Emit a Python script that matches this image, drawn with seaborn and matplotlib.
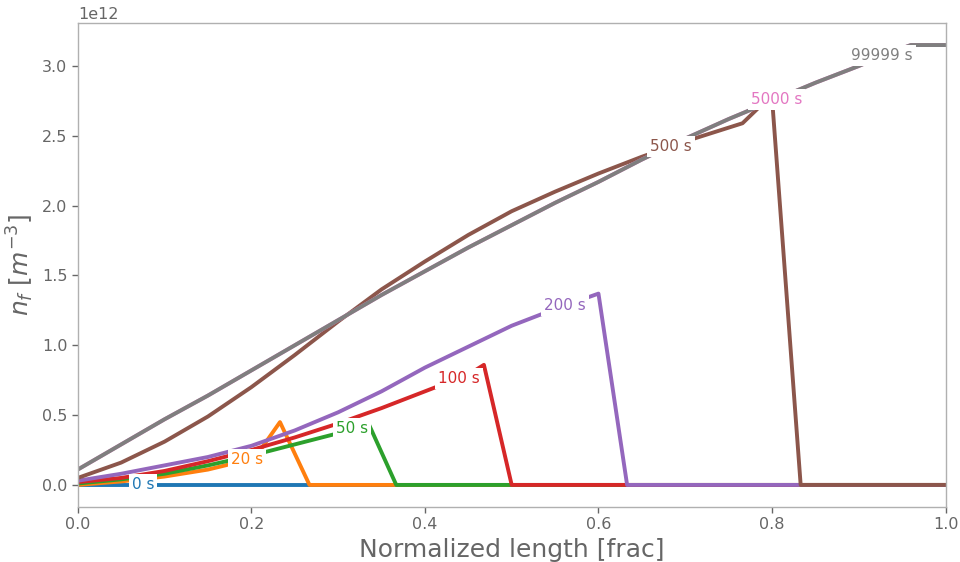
import numpy as np
import pandas as pd
import matplotlib
matplotlib.use("Agg")
import matplotlib.pyplot as plt
import seaborn as sns

sns.set_theme(style="white")
plt.rcParams['font.family'] = ['DejaVu Sans']

# ---- data (units of 1e12 m^-3) ----
labels = ["0 s", "20 s", "50 s", "100 s", "200 s", "500 s", "5000 s", "99999 s"]

x_0s = [0.0, 1.0]
y_0s = [0.0, 0.0]

x_20s = [0.0, 0.05, 0.1, 0.15, 0.17, 0.2, 0.207, 0.233, 0.267, 1.0]
y_20s = [0.0, 0.025, 0.06, 0.11, 0.14, 0.19, 0.22, 0.45, 0.0, 0.0]

x_50s = [0.0, 0.05, 0.1, 0.15, 0.2, 0.25, 0.3, 0.335, 0.367, 1.0]
y_50s = [0.01, 0.04, 0.08, 0.14, 0.21, 0.29, 0.37, 0.44, 0.0, 0.0]

x_100s = [0.0, 0.05, 0.1, 0.15, 0.2, 0.25, 0.3, 0.35, 0.4, 0.45, 0.468, 0.5, 1.0]
y_100s = [0.02, 0.05, 0.1, 0.17, 0.25, 0.34, 0.44, 0.55, 0.67, 0.79, 0.86, 0.0, 0.0]

x_200s = [0.0, 0.05, 0.1, 0.15, 0.2, 0.25, 0.3, 0.35, 0.4, 0.45, 0.5, 0.55, 0.6, 0.633, 1.0]
y_200s = [0.03, 0.08, 0.14, 0.2, 0.28, 0.39, 0.52, 0.67, 0.84, 0.99, 1.14, 1.26, 1.37, 0.0, 0.0]

x_500s = [0.0, 0.05, 0.1, 0.15, 0.2, 0.25, 0.3, 0.35, 0.4, 0.45, 0.5, 0.55, 0.6, 0.65,
          0.7, 0.766, 0.786, 0.8, 0.833, 1.0]
y_500s = [0.05, 0.16, 0.31, 0.49, 0.7, 0.93, 1.17, 1.4, 1.6, 1.79, 1.96, 2.1, 2.23, 2.35,
          2.46, 2.59, 2.71, 2.77, 0.0, 0.0]

x_5000s = [0.0, 0.05, 0.1, 0.15, 0.2, 0.25, 0.3, 0.35, 0.4, 0.45, 0.5, 0.55, 0.6, 0.65,
           0.7, 0.75, 0.8, 0.85, 0.9, 0.93, 0.96, 1.0]
y_5000s = [0.11, 0.29, 0.47, 0.64, 0.82, 1.0, 1.18, 1.36, 1.53, 1.7, 1.86, 2.02, 2.17, 2.33,
           2.48, 2.62, 2.75, 2.88, 3.0, 3.08, 3.15, 3.15]

x_99999s = [0.0, 0.05, 0.1, 0.15, 0.2, 0.25, 0.3, 0.35, 0.4, 0.45, 0.5, 0.55, 0.6, 0.65,
            0.7, 0.75, 0.8, 0.85, 0.9, 0.93, 0.96, 1.0]
y_99999s = [0.11, 0.29, 0.47, 0.64, 0.82, 1.0, 1.18, 1.36, 1.53, 1.7, 1.86, 2.02, 2.17, 2.33,
            2.48, 2.62, 2.75, 2.88, 3.0, 3.08, 3.15, 3.15]

label_x = [0.075, 0.195, 0.316, 0.439, 0.561, 0.684, 0.805, 0.927]

xs = [x_0s, x_20s, x_50s, x_100s, x_200s, x_500s, x_5000s, x_99999s]
ys = [y_0s, y_20s, y_50s, y_100s, y_200s, y_500s, y_5000s, y_99999s]

frames = []
for lab, xx, yy in zip(labels, xs, ys):
    frames.append(pd.DataFrame({"x": xx, "y": np.array(yy) * 1e12, "time": lab}))
df = pd.concat(frames, ignore_index=True)

palette = dict(zip(labels, sns.color_palette("tab10", 8)))

fig = plt.figure(figsize=(9.6, 5.62), dpi=100)
ax = fig.add_axes([0.081, 0.098, 0.904, 0.861])

for lab in labels:
    sub = df[df["time"] == lab]
    sns.lineplot(data=sub, x="x", y="y", color=palette[lab], lw=2.8,
                 estimator=None, sort=False, legend=False, ax=ax)

# inline labels
for lab, xx, yy, lx in zip(labels, xs, ys, label_x):
    ly = np.interp(lx, xx, yy) * 1e12
    ax.text(lx, ly, lab, color=palette[lab], fontsize=11, ha="center", va="center",
            bbox=dict(boxstyle="square,pad=0.2", fc="white", ec="none"), zorder=5)

ax.set_xlim(0, 1)
ax.set_ylim(-0.1575e12, 3.3075e12)
ax.set_xticks([0, 0.2, 0.4, 0.6, 0.8, 1.0])
ax.set_yticks(np.arange(0, 3.01, 0.5) * 1e12)

txt_color = "#666666"
ax.set_xlabel("Normalized length [frac]", fontsize=18, color=txt_color)
ax.set_ylabel(r"$n_f\ [m^{-3}]$", fontsize=18, color=txt_color)
ax.tick_params(axis="both", colors=txt_color, labelsize=11.5, length=4, width=1,
               direction="out", bottom=True, left=True)
ax.yaxis.get_offset_text().set_color(txt_color)
ax.yaxis.get_offset_text().set_fontsize(11.5)
for sp in ax.spines.values():
    sp.set_color("#b0b0b0")
    sp.set_linewidth(1.0)

fig.savefig("out.png", dpi=100)
